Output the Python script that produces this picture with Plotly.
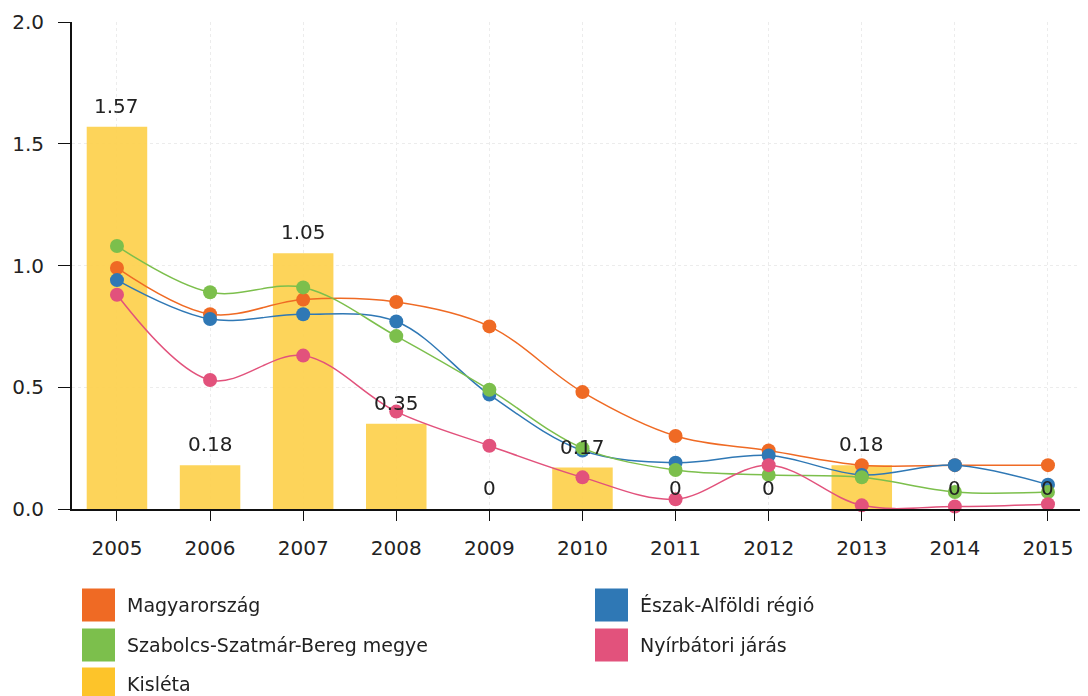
import plotly.graph_objects as go

years = [2005, 2006, 2007, 2008, 2009, 2010, 2011, 2012, 2013, 2014, 2015]

# series values
magyarorszag = [0.99, 0.80, 0.86, 0.85, 0.75, 0.48, 0.30, 0.24, 0.18, 0.18, 0.18]
eszak_alfold = [0.94, 0.78, 0.80, 0.77, 0.47, 0.24, 0.19, 0.22, 0.14, 0.18, 0.10]
szabolcs = [1.08, 0.89, 0.91, 0.71, 0.49, 0.25, 0.16, 0.14, 0.13, 0.07, 0.07]
nyirbator = [0.88, 0.53, 0.63, 0.40, 0.26, 0.13, 0.04, 0.18, 0.015, 0.01, 0.02]
kisleta = [1.57, 0.18, 1.05, 0.35, 0, 0.17, 0, 0, 0.18, 0, 0]

FONT = "DejaVu Sans"
# the page body has an 8px margin, so the figure is a bit smaller than the window
W, H = 1080, 688
OFF = 8
M = dict(l=64, r=0, t=14, b=187)

lines = [
    ("Magyarország", magyarorszag, "#ef6a24"),
    ("Észak-Alföldi régió", eszak_alfold, "#2f78b5"),
    ("Szabolcs-Szatmár-Bereg megye", szabolcs, "#7cbf4c"),
    ("Nyírbátori járás", nyirbator, "#e2527c"),
]
bar_color = "#fdd252"

fig = go.Figure()

# Kisléta bars (bars always sit below the scatter layer)
fig.add_trace(go.Bar(x=years, y=kisleta, width=0.65,
                     marker=dict(color=bar_color, line=dict(width=0)),
                     opacity=0.95, showlegend=False, hoverinfo="x+y"))

for name, vals, col in lines:
    fig.add_trace(go.Scatter(x=years, y=vals, mode="lines+markers", name=name,
                             line=dict(color=col, width=1.5, shape="spline", smoothing=1),
                             marker=dict(color=col, size=14),
                             cliponaxis=False, showlegend=False))

# value labels over the bars
for yr, v in zip(years, kisleta):
    fig.add_annotation(x=yr, y=v, text=f"{v:g}", showarrow=False,
                       yanchor="middle", yshift=21,
                       font=dict(size=20, color="#222"))

# hand-built legend: two columns of big square swatches
legend_items = [(l[0], l[2]) for l in lines] + [("Kisléta", "#fdc42a")]
pw = W - M["l"] - M["r"]
ph = H - M["t"] - M["b"]
col_x = [82, 595]
row_y = [605, 645, 684]
sw = 33


def px(x):
    return (x - OFF - M["l"]) / pw


def py(y):
    return (H - M["b"] - (y - OFF)) / ph


for i, (name, col) in enumerate(legend_items):
    cx = col_x[i % 2]
    cy = row_y[i // 2]
    fig.add_shape(type="rect", xref="paper", yref="paper",
                  x0=px(cx), x1=px(cx + sw), y0=py(cy - sw / 2), y1=py(cy + sw / 2),
                  fillcolor=col, line=dict(width=0))
    fig.add_annotation(xref="paper", yref="paper",
                       x=px(cx + sw + 10), y=py(cy),
                       xanchor="left", yanchor="middle", showarrow=False,
                       text=name, font=dict(size=19, color="#222"))

fig.update_layout(
    width=W, height=H,
    margin=M,
    plot_bgcolor="white", paper_bgcolor="white",
    font=dict(family=FONT, size=20, color="#222"),
    showlegend=False,
)

fig.update_xaxes(range=[2004.517, 2015.43], tickmode="array", tickvals=years,
                 showline=True, linecolor="#111", linewidth=2,
                 ticks="outside", ticklen=10, tickcolor="#111",
                 ticklabelstandoff=10,
                 showgrid=True, gridcolor="#ececec", griddash="dot", zeroline=False)
fig.update_yaxes(range=[0, 2], tickvals=[0, 0.5, 1.0, 1.5, 2.0], tickformat=".1f",
                 showline=True, linecolor="#111", linewidth=2,
                 ticks="outside", ticklen=12, tickcolor="#111",
                 ticklabelstandoff=10,
                 showgrid=True, gridcolor="#ececec", griddash="dot", zeroline=False)

fig.write_html("out.html")
